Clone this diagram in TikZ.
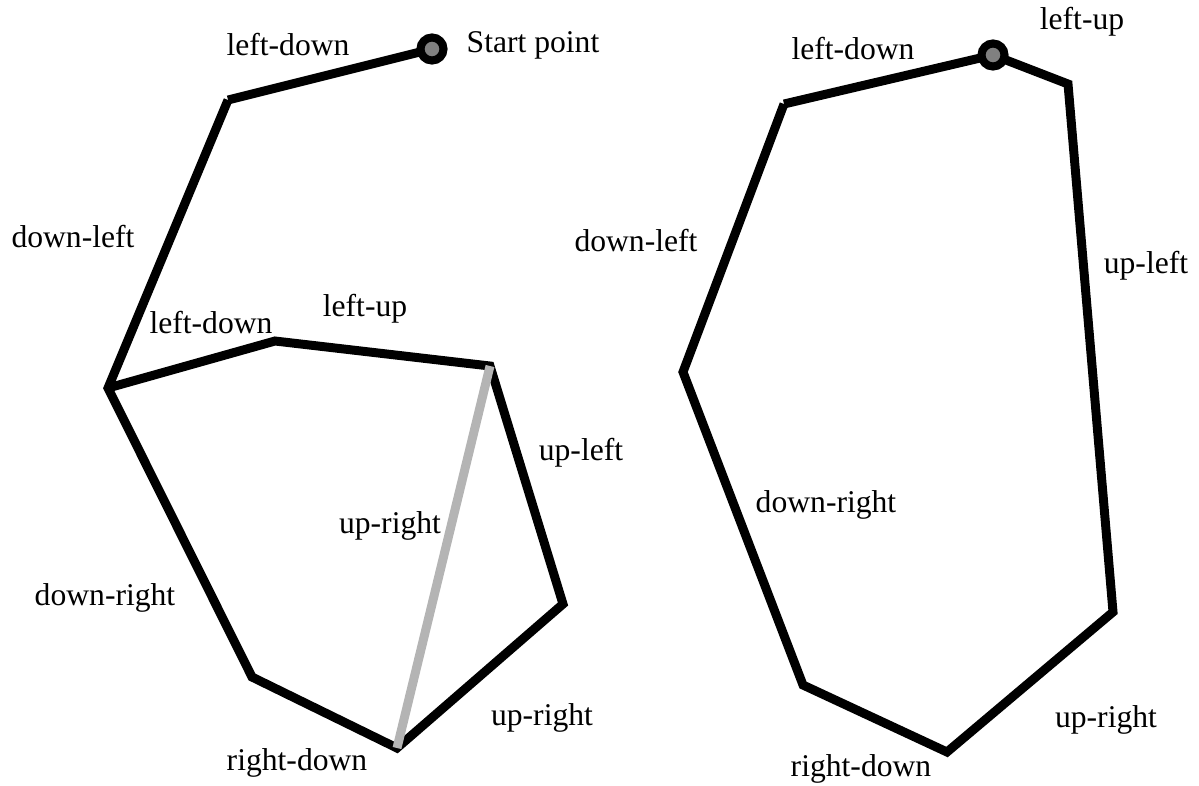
\documentclass[tikz,border=0pt]{standalone}
\usepackage{fontspec}
\setmainfont{Liberation Serif}
\usepackage{xcolor}
\definecolor{pathgray}{RGB}{180,180,180}
\definecolor{dotgray}{RGB}{128,128,128}

\begin{document}
\begin{tikzpicture}[x=0.02cm, y=-0.02cm,
    edge/.style={line width=5.1pt, black},
    chord/.style={line width=5.1pt, pathgray},
    startdot/.style={line width=4.6pt, fill=dotgray},
    lbl/.style={font=\fontsize{18}{21}\selectfont, inner sep=0pt}]
    \useasboundingbox (0,0) rectangle (1199,785);
    % left polygon
    \coordinate (s1) at (432,49);
    \coordinate (a1) at (228,100);
    \coordinate (b1) at (108,388);
    \coordinate (c1) at (275,341);
    \coordinate (d1) at (490,366);
    \coordinate (e1) at (563,604);
    \coordinate (f1) at (397,748);
    \coordinate (g1) at (252,677);
    \draw[edge] (s1) -- (a1);
    \draw[edge] (a1) -- (b1) -- (g1) -- (f1) -- (e1) -- (d1) -- (c1) -- (b1);
    \draw[chord] (f1) -- (d1);
    \draw[startdot] (s1) circle (0.23cm);
    % right polygon
    \coordinate (s2) at (993,55);
    \coordinate (a2) at (784,104);
    \coordinate (b2) at (683,372);
    \coordinate (c2) at (803,685);
    \coordinate (d2) at (947,752);
    \coordinate (e2) at (1113,612);
    \coordinate (f2) at (1068,84);
    \draw[edge] (s2) -- (a2);
    \draw[edge] (a2) -- (b2) -- (c2) -- (d2) -- (e2) -- (f2) -- (s2);
    \draw[startdot] (s2) circle (0.23cm);
    % labels, left
    \node[lbl] (l1) at (288,45) {left-down};
    \node[lbl] (l2) at (533,45) {Start point};
    \node[lbl] (l3) at (73,237) {down-left};
    \node[lbl] (l4) at (211,323) {left-down};
    \node[lbl] (l5) at (365,309) {left-up};
    \node[lbl] (l6) at (581,453) {up-left};
    \node[lbl] (l7) at (390,526) {up-right};
    \node[lbl] (l8) at (105,598) {down-right};
    \node[lbl] (l9) at (542,718) {up-right};
    \node[lbl] (l10) at (297,763) {right-down};
    % labels, right
    \node[lbl] (r1) at (853,49) {left-down};
    \node[lbl] (r2) at (1082,22) {left-up};
    \node[lbl] (r3) at (636,241) {down-left};
    \node[lbl] (r4) at (1146,266) {up-left};
    \node[lbl] (r5) at (826,505) {down-right};
    \node[lbl] (r6) at (1106,720) {up-right};
    \node[lbl] (r7) at (861,769) {right-down};
\end{tikzpicture}
\end{document}
